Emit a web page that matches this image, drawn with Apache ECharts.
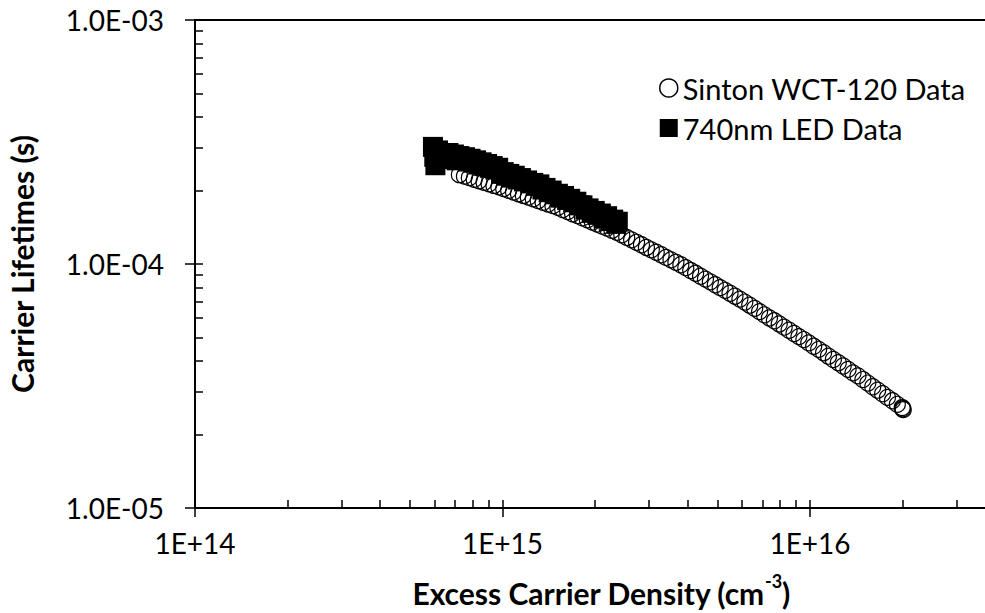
<!DOCTYPE html>
<html><head><meta charset="utf-8">
<script src="https://cdn.jsdelivr.net/npm/echarts@6/dist/echarts.min.js"></script>
<style>html,body{margin:0;padding:0;background:#fff}#c{width:985px;height:613px}</style>
</head><body><div id="c"></div>
<script>
const sintonDensity = [7.24e14,7.52e14,7.80e14,8.09e14,8.39e14,8.71e14,9.04e14,9.38e14,9.73e14,1.009e15,1.047e15,1.086e15,1.127e15,1.169e15,1.213e15,1.259e15,1.306e15,1.355e15,1.406e15,1.459e15,1.514e15,1.570e15,1.629e15,1.690e15,1.754e15,1.820e15,1.888e15,1.959e15,2.032e15,2.109e15,2.188e15,2.270e15,2.355e15,2.443e15,2.535e15,2.630e15,2.729e15,2.831e15,2.938e15,3.048e15,3.162e15,3.281e15,3.404e15,3.532e15,3.664e15,3.802e15,3.945e15,4.093e15,4.246e15,4.406e15,4.571e15,4.742e15,4.920e15,5.105e15,5.297e15,5.495e15,5.702e15,5.916e15,6.138e15,6.368e15,6.607e15,6.855e15,7.112e15,7.379e15,7.656e15,7.943e15,8.241e15,8.551e15,8.872e15,9.204e15,9.550e15,9.908e15,1.028e16,1.067e16,1.107e16,1.148e16,1.191e16,1.236e16,1.282e16,1.330e16,1.380e16,1.432e16,1.486e16,1.542e16,1.600e16,1.660e16,1.722e16,1.786e16,1.854e16,1.923e16,1.995e16,2.00e16,2.01e16];
const sintonLifetime = [2.323e-4,2.291e-4,2.259e-4,2.223e-4,2.193e-4,2.163e-4,2.133e-4,2.099e-4,2.070e-4,2.037e-4,2.004e-4,1.972e-4,1.941e-4,1.910e-4,1.879e-4,1.849e-4,1.820e-4,1.791e-4,1.762e-4,1.734e-4,1.706e-4,1.671e-4,1.641e-4,1.607e-4,1.578e-4,1.545e-4,1.517e-4,1.486e-4,1.459e-4,1.429e-4,1.403e-4,1.374e-4,1.349e-4,1.318e-4,1.285e-4,1.256e-4,1.227e-4,1.199e-4,1.169e-4,1.143e-4,1.117e-4,1.091e-4,1.064e-4,1.040e-4,1.016e-4,9.93e-5,9.66e-5,9.40e-5,9.16e-5,8.91e-5,8.67e-5,8.45e-5,8.22e-5,8.00e-5,7.80e-5,7.59e-5,7.38e-5,7.18e-5,6.98e-5,6.78e-5,6.58e-5,6.38e-5,6.19e-5,6.01e-5,5.85e-5,5.68e-5,5.51e-5,5.35e-5,5.19e-5,5.04e-5,4.90e-5,4.75e-5,4.60e-5,4.47e-5,4.33e-5,4.19e-5,4.06e-5,3.94e-5,3.82e-5,3.70e-5,3.58e-5,3.48e-5,3.36e-5,3.25e-5,3.14e-5,3.04e-5,2.94e-5,2.84e-5,2.75e-5,2.66e-5,2.58e-5,2.55e-5,2.53e-5];
const ledDensity = [5.94e14,6.00e14,6.05e14,6.17e14,6.28e14,6.40e14,6.53e14,6.67e14,6.81e14,6.95e14,7.10e14,7.24e14,7.40e14,7.55e14,7.71e14,7.87e14,8.04e14,8.20e14,8.38e14,8.55e14,8.73e14,8.91e14,9.10e14,9.29e14,9.48e14,9.68e14,9.89e14,1.009e15,1.030e15,1.052e15,1.074e15,1.096e15,1.122e15,1.148e15,1.175e15,1.202e15,1.230e15,1.259e15,1.288e15,1.318e15,1.349e15,1.380e15,1.413e15,1.445e15,1.479e15,1.514e15,1.549e15,1.585e15,1.622e15,1.660e15,1.698e15,1.738e15,1.778e15,1.820e15,1.862e15,1.905e15,1.950e15,1.995e15,2.042e15,2.089e15,2.138e15,2.188e15,2.239e15,2.291e15,2.344e15,2.371e15];
const ledLifetime = [3.02e-4,2.75e-4,2.54e-4,2.92e-4,2.69e-4,2.83e-4,2.74e-4,2.85e-4,2.70e-4,2.81e-4,2.66e-4,2.77e-4,2.68e-4,2.74e-4,2.63e-4,2.70e-4,2.60e-4,2.66e-4,2.56e-4,2.61e-4,2.52e-4,2.57e-4,2.48e-4,2.52e-4,2.44e-4,2.48e-4,2.34e-4,2.38e-4,2.30e-4,2.34e-4,2.26e-4,2.30e-4,2.22e-4,2.25e-4,2.18e-4,2.20e-4,2.14e-4,2.15e-4,2.09e-4,2.12e-4,2.02e-4,2.05e-4,1.97e-4,2.00e-4,1.93e-4,1.94e-4,1.87e-4,1.90e-4,1.83e-4,1.85e-4,1.79e-4,1.80e-4,1.74e-4,1.74e-4,1.67e-4,1.69e-4,1.62e-4,1.65e-4,1.59e-4,1.61e-4,1.54e-4,1.57e-4,1.50e-4,1.52e-4,1.46e-4,1.49e-4];
const xTickValues = [1e14, 1e15, 1e16, 1e17];
const xLabelValues = [1e14, 1e15, 1e16];
const xTickLabels = ['1E+14', '1E+15', '1E+16'];
const yTickValues = [1e-5, 1e-4, 1e-3];
const yTickLabels = ['1.0E-05', '1.0E-04', '1.0E-03'];
const seriesNames = ['Sinton WCT-120 Data', '740nm LED Data'];
const xTitleMain = 'Excess Carrier Density (cm';
const xTitleSup = '-3';
const xTitleEnd = ')';
const yTitle = 'Carrier Lifetimes (s)';

function withMinors(decades) {
  const out = [];
  for (let i = 0; i < decades.length; i++) {
    out.push(decades[i]);
    if (i < decades.length - 1) for (let k = 2; k <= 9; k++) out.push(decades[i] * k);
  }
  return out;
}
function labelFor(values, labels) {
  return function (v) {
    const lv = Math.round(Math.log10(v));
    for (let i = 0; i < values.length; i++) if (Math.round(Math.log10(values[i])) === lv) return labels[i];
    return '';
  };
}
const FONT = 'Lato';
const black = '#000';

const chart = echarts.init(document.getElementById('c'), null, { renderer: 'svg' });
chart.setOption({
  animation: false,
  backgroundColor: '#fff',
  textStyle: { fontFamily: FONT, color: black },
  grid: { left: 195, top: 20, bottom: 105, right: -132.5, outerBoundsMode: 'none', containLabel: false, show: true, borderColor: black, borderWidth: 2, backgroundColor: 'transparent' },
  xAxis: [
    {
      type: 'log', logBase: 10, min: 1e14, max: 1e17, position: 'bottom',
      axisLine: { show: true, lineStyle: { color: black, width: 2 } },
      axisTick: { show: true, inside: false, length: 9, lineStyle: { color: black, width: 1.5 }, customValues: xTickValues },
      axisLabel: { show: true, customValues: xLabelValues, formatter: labelFor(xLabelValues, xTickLabels), fontFamily: FONT, fontSize: 28, color: black, margin: 21 },
      splitLine: { show: false }, minorTick: { show: false }
    },
    {
      type: 'log', logBase: 10, min: 1e14, max: 1e17, position: 'bottom',
      axisLine: { show: false },
      axisTick: { show: true, inside: true, length: 8, lineStyle: { color: black, width: 1.5 }, customValues: withMinors(xTickValues) },
      axisLabel: { show: false }, splitLine: { show: false }
    }
  ],
  yAxis: [
    {
      type: 'log', logBase: 10, min: 1e-5, max: 1e-3, position: 'left',
      axisLine: { show: true, lineStyle: { color: black, width: 2 } },
      axisTick: { show: true, inside: false, length: 10, lineStyle: { color: black, width: 1.5 }, customValues: yTickValues },
      axisLabel: { show: true, customValues: yTickValues, formatter: labelFor(yTickValues, yTickLabels), fontFamily: FONT, fontSize: 28, color: black, margin: 31 },
      splitLine: { show: false }
    },
    {
      type: 'log', logBase: 10, min: 1e-5, max: 1e-3, position: 'left',
      axisLine: { show: false },
      axisTick: { show: true, inside: true, length: 8, lineStyle: { color: black, width: 1.5 }, customValues: withMinors(yTickValues) },
      axisLabel: { show: false }, splitLine: { show: false }
    }
  ],
  legend: {
    orient: 'vertical', left: 654, top: 66, itemWidth: 18, itemHeight: 18, itemGap: 6,
    textStyle: { fontFamily: FONT, fontSize: 29, color: black, lineHeight: 34 },
    data: [
      { name: seriesNames[0], icon: 'circle', itemStyle: { color: '#fff', borderColor: black, borderWidth: 1.5, opacity: 1 } },
      { name: seriesNames[1], icon: 'rect', itemStyle: { color: black, borderWidth: 0, opacity: 1 } }
    ]
  },
  series: [
    {
      name: seriesNames[0], type: 'scatter', xAxisIndex: 0, yAxisIndex: 0, z: 2, silent: true,
      symbol: 'circle', symbolSize: 16,
      itemStyle: { color: 'rgba(255,255,255,0)', borderColor: black, borderWidth: 1.2, opacity: 1 },
      data: sintonDensity.map((x, i) => [x, sintonLifetime[i]])
    },
    {
      name: seriesNames[1], type: 'scatter', xAxisIndex: 0, yAxisIndex: 0, z: 3, silent: true,
      symbol: 'rect', symbolSize: 20,
      itemStyle: { color: black, opacity: 1 },
      data: ledDensity.map((x, i) => [x, ledLifetime[i]])
    }
  ],
  graphic: [
    {
      type: 'text', x: 601, y: 590,
      style: {
        text: '{m|' + xTitleMain + '}{s|' + xTitleSup + '}{m|' + xTitleEnd + '}',
        align: 'center', verticalAlign: 'middle',
        rich: {
          m: { fontFamily: FONT, fontWeight: 'bold', fontSize: 30, fill: black, lineHeight: 36, verticalAlign: 'bottom' },
          s: { fontFamily: FONT, fontWeight: 'bold', fontSize: 18, fill: black, lineHeight: 36, verticalAlign: 'top' }
        }
      }
    },
    {
      type: 'text', x: 22, y: 264, rotation: Math.PI / 2,
      style: { text: yTitle, fontFamily: FONT, fontWeight: 'bold', fontSize: 30, fill: black, align: 'center', verticalAlign: 'middle' }
    }
  ]
});
</script>
</body></html>
